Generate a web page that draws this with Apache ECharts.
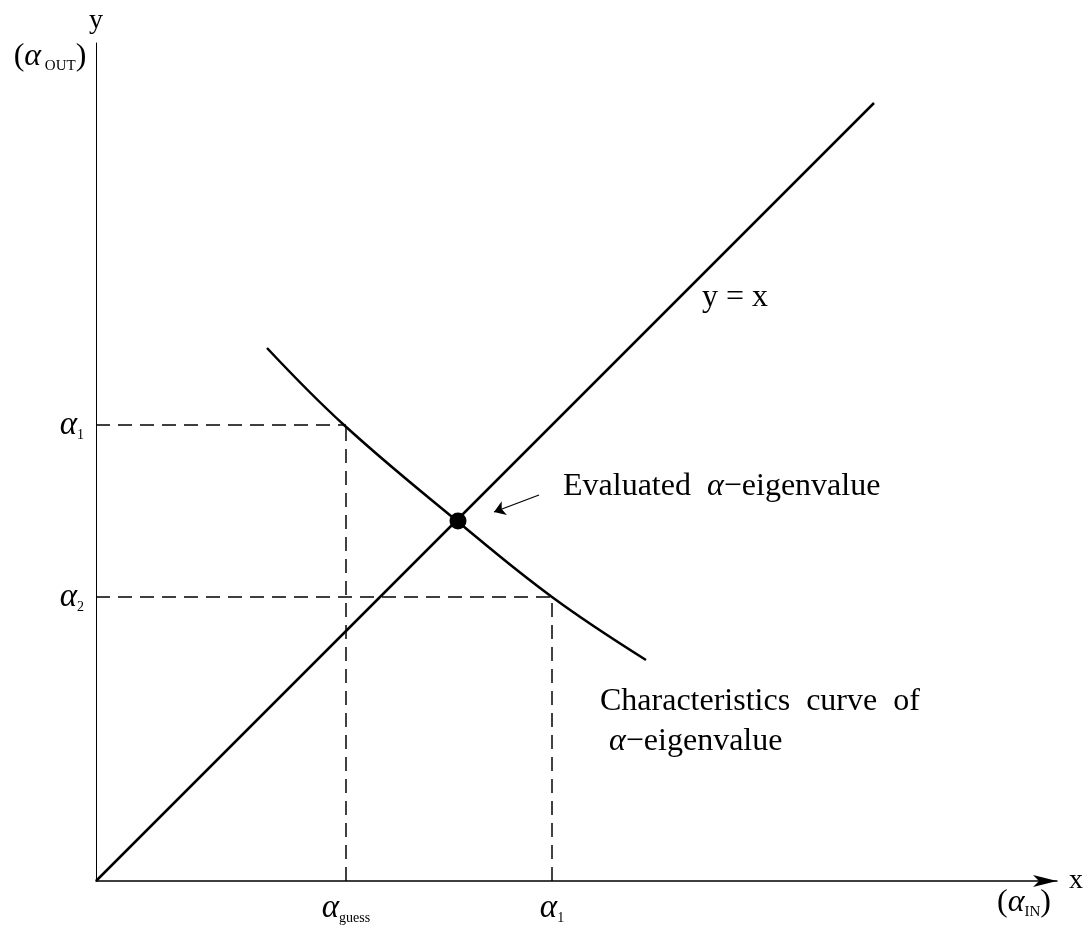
<!DOCTYPE html>
<html>
<head>
<meta charset="utf-8">
<script src="https://cdn.jsdelivr.net/npm/echarts@6/dist/echarts.min.js"></script>
<style>
html,body{margin:0;padding:0;background:#fff;}
#chart{width:1092px;height:931px;}
</style>
</head>
<body>
<div id="chart"></div>
<script>
// ---- data (units: same scale on both axes) ----
var identityLine = [[0, 0], [778, 778]];
var characteristicCurve = [[171, 533], [248, 456], [361, 360], [456, 284], [550, 221]];
var evaluatedPoint = [[362, 360]];
var alphaGuess = 250;
var alpha1 = 456;
var alpha2 = 284;
var xTickValues = [alphaGuess, alpha1];
var xTickSubs = ['guess', '1'];
var yTickValues = [alpha2, alpha1];
var yTickSubs = ['2', '1'];
var pointerArrow = [[443, 386], [398, 369]];
var annotations = [
  { value: [606, 583], text: 'y = x' },
  { value: [467, 394], text: 'Evaluated  {a|α}−eigenvalue' },
  { value: [504, 179], text: 'Characteristics  curve  of' },
  { value: [513, 139], text: '{a|α}−eigenvalue' }
];
var axisUnitLabels = [
  { value: [-46, 824], text: '({b|α}{s| OUT})' },
  { value: [928, -22], text: '({b|α}{s|IN})' }
];

var FONT = 'Liberation Serif';
var chart = echarts.init(document.getElementById('chart'));

function guideLines() {
  return [
    [[0, alpha1], [alphaGuess, alpha1]],
    [[alphaGuess, 0], [alphaGuess, alpha1]],
    [[0, alpha2], [alpha1, alpha2]],
    [[alpha1, 0], [alpha1, alpha2]]
  ];
}

var richText = {
  a: { fontFamily: FONT, fontSize: 32, fontStyle: 'italic', color: '#000' },
  b: { fontFamily: FONT, fontSize: 32, fontStyle: 'italic', color: '#000', lineHeight: 34 },
  s: { fontFamily: FONT, fontSize: 15, color: '#000', verticalAlign: 'bottom', lineHeight: 22 }
};

var tickRich = {
  a: { fontFamily: FONT, fontSize: 33, fontStyle: 'italic', color: '#000', lineHeight: 34 },
  s: { fontFamily: FONT, fontSize: 14, color: '#000', verticalAlign: 'bottom', lineHeight: 22 }
};

var option = {
  backgroundColor: '#fff',
  animation: false,
  grid: { left: 96, right: 35, top: 43, bottom: 50, containLabel: false },
  xAxis: {
    type: 'value', min: 0, max: 961,
    splitLine: { show: false },
    axisTick: { show: false },
    axisLine: { onZero: false, symbol: ['none', 'arrow'], symbolSize: [9, 24], symbolOffset: [0, 0],
      lineStyle: { color: '#000', width: 1.5 } },
    axisLabel: {
      customValues: xTickValues,
      margin: 10,
      formatter: function (v) {
        var i = xTickValues.indexOf(v);
        return '{a|α}{s|' + xTickSubs[i] + '}';
      },
      rich: tickRich
    },
    name: 'x', nameLocation: 'end', nameGap: 12,
    nameTextStyle: { fontFamily: FONT, fontSize: 28, color: '#000', verticalAlign: 'middle' }
  },
  yAxis: {
    type: 'value', min: 0, max: 838,
    splitLine: { show: false },
    axisTick: { show: false },
    axisLine: { onZero: false, lineStyle: { color: '#000', width: 1 } },
    axisLabel: {
      customValues: yTickValues,
      margin: 12,
      formatter: function (v) {
        var i = yTickValues.indexOf(v);
        return '{a|α}{s|' + yTickSubs[i] + '}';
      },
      rich: tickRich
    },
    name: 'y', nameLocation: 'end', nameGap: 8,
    nameTextStyle: { fontFamily: FONT, fontSize: 28, color: '#000', align: 'center' }
  },
  series: [
    {
      type: 'line', data: identityLine, symbol: 'none', silent: true,
      lineStyle: { color: '#000', width: 2.5 }
    },
    {
      type: 'line', data: characteristicCurve, symbol: 'none', smooth: 0.4, silent: true,
      lineStyle: { color: '#000', width: 2.5 }
    },
    {
      type: 'lines', coordinateSystem: 'cartesian2d', silent: true,
      data: guideLines().map(function (c) { return { coords: c }; }),
      lineStyle: { color: '#000', width: 1.5, type: [14, 8], opacity: 1 }
    },
    {
      type: 'lines', coordinateSystem: 'cartesian2d', silent: true,
      symbol: ['none', 'arrow'], symbolSize: 11,
      data: [{ coords: pointerArrow }],
      lineStyle: { color: '#000', width: 1.3, opacity: 1 }
    },
    {
      type: 'scatter', data: evaluatedPoint, symbolSize: 17, silent: true, z: 5,
      itemStyle: { color: '#000', opacity: 1 }
    },
    {
      type: 'scatter', symbolSize: 0, silent: true, clip: false,
      data: annotations.map(function (a) { return { value: a.value, text: a.text }; }),
      label: {
        show: true, position: 'right', distance: 0,
        formatter: function (p) { return p.data.text; },
        fontFamily: FONT, fontSize: 32, color: '#000', opacity: 1,
        rich: richText
      }
    },
    {
      type: 'scatter', symbolSize: 0, silent: true, clip: false,
      data: axisUnitLabels.map(function (a) { return { value: a.value, text: a.text }; }),
      label: {
        show: true, position: 'inside',
        formatter: function (p) { return p.data.text; },
        fontFamily: FONT, fontSize: 32, color: '#000', opacity: 1,
        rich: richText
      }
    }
  ]
};
chart.setOption(option);
</script>
</body>
</html>
